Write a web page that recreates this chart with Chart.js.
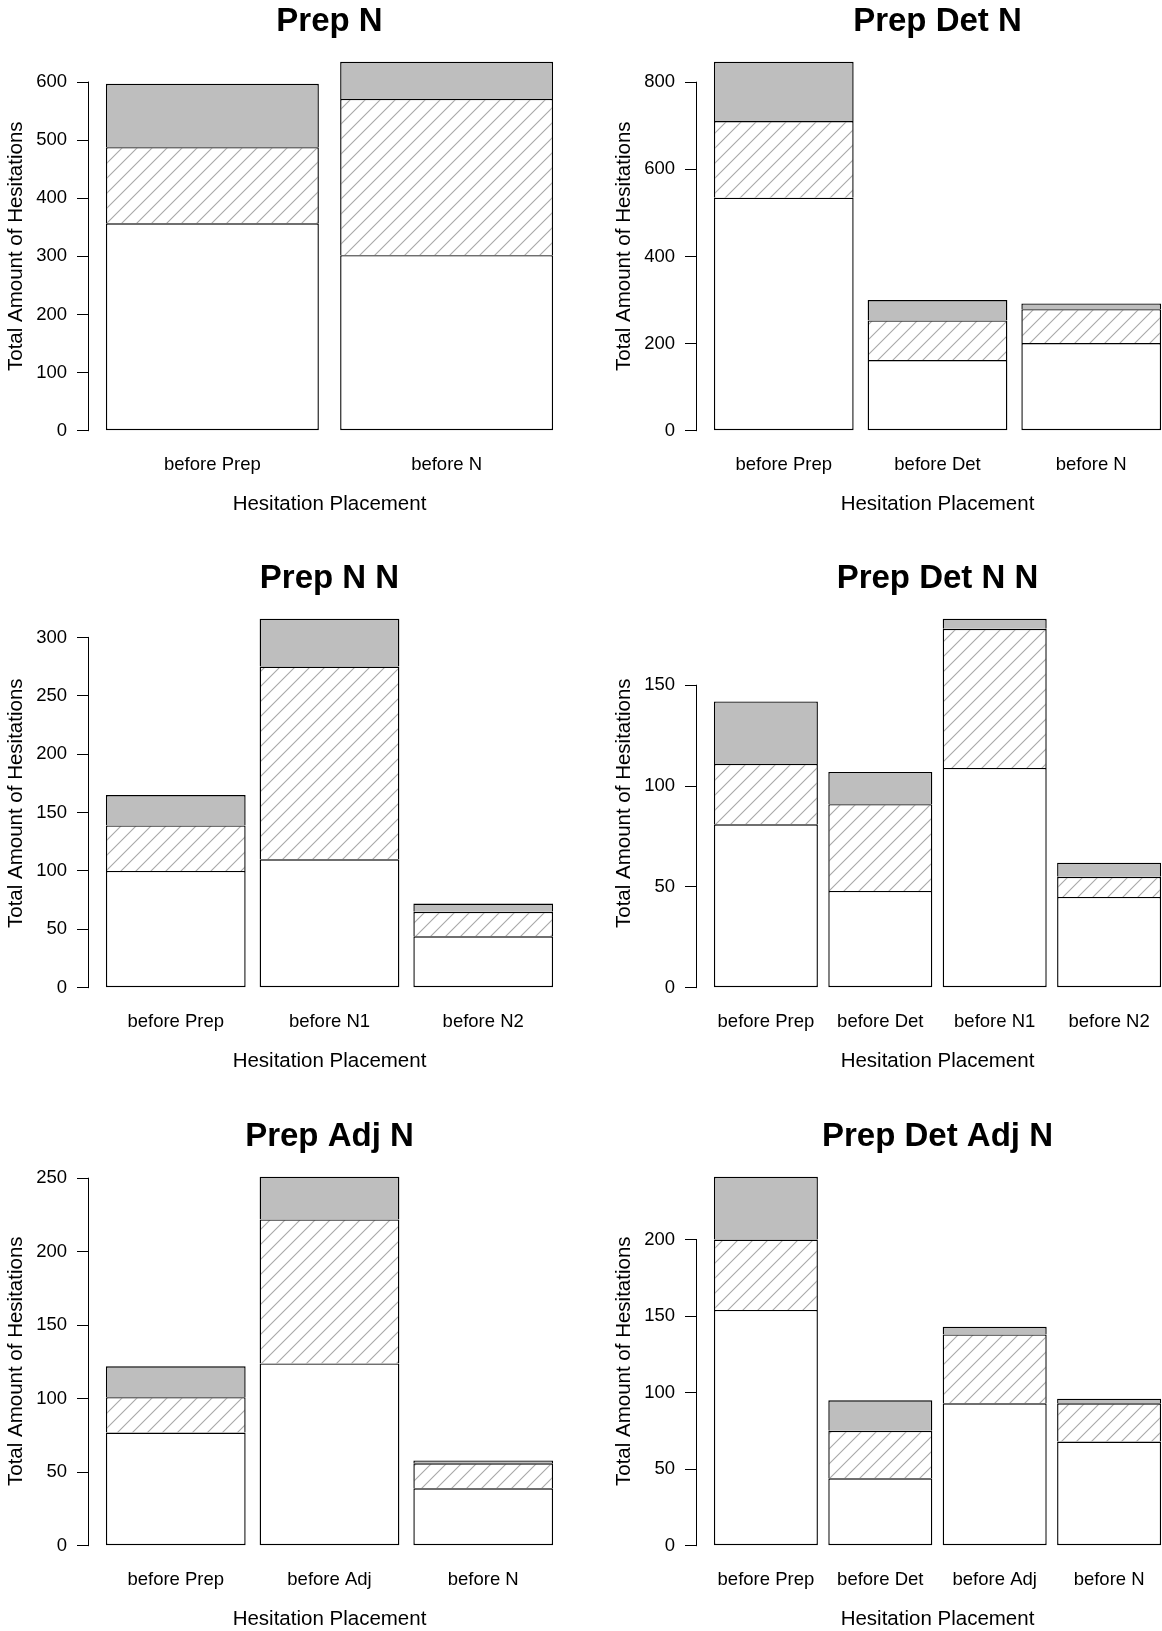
<!DOCTYPE html>
<html>
<head>
<meta charset="utf-8">
<title>Hesitation Placement</title>
<script src="https://cdn.jsdelivr.net/npm/chart.js@4.4.1/dist/chart.umd.min.js"></script>
<style>
  html, body { margin: 0; padding: 0; background: #fff; }
  #sheet { position: relative; width: 1162px; height: 1631px; overflow: hidden; }
  #sheet canvas { position: absolute; }
</style>
</head>
<body>
<div id="sheet">
  <canvas id="prepN" width="608" height="557" style="left:0;top:0"></canvas>
  <canvas id="prepDetN" width="608" height="557" style="left:608px;top:0"></canvas>
  <canvas id="prepNN" width="608" height="557" style="left:0;top:557px"></canvas>
  <canvas id="prepDetNN" width="608" height="557" style="left:608px;top:557px"></canvas>
  <canvas id="prepAdjN" width="608" height="557" style="left:0;top:1115px"></canvas>
  <canvas id="prepDetAdjN" width="608" height="557" style="left:608px;top:1115px"></canvas>
</div>
<script>
// counts per placement: bottom (white), middle (hatched), top (grey) segment
const catsPrepN = ['before Prep', 'before N'];
const lowPrepN = [357, 302];
const midPrepN = [131, 269];
const highPrepN = [109, 64];
const ticksPrepN = [0, 100, 200, 300, 400, 500, 600];

const catsPrepDetN = ['before Prep', 'before Det', 'before N'];
const lowPrepDetN = [535, 162, 201];
const midPrepDetN = [176, 91, 78];
const highPrepDetN = [136, 47, 13];
const ticksPrepDetN = [0, 200, 400, 600, 800];

const catsPrepNN = ['before Prep', 'before N1', 'before N2'];
const lowPrepNN = [100, 110, 44];
const midPrepNN = [39, 165, 21];
const highPrepNN = [26, 41, 7];
const ticksPrepNN = [0, 50, 100, 150, 200, 250, 300];

const catsPrepDetNN = ['before Prep', 'before Det', 'before N1', 'before N2'];
const lowPrepDetNN = [81, 48, 109, 45];
const midPrepDetNN = [30, 43, 69, 10];
const highPrepDetNN = [31, 16, 5, 7];
const ticksPrepDetNN = [0, 50, 100, 150];

const catsPrepAdjN = ['before Prep', 'before Adj', 'before N'];
const lowPrepAdjN = [77, 124, 39];
const midPrepAdjN = [24, 98, 17];
const highPrepAdjN = [21, 29, 2];
const ticksPrepAdjN = [0, 50, 100, 150, 200, 250];

const catsPrepDetAdjN = ['before Prep', 'before Det', 'before Adj', 'before N'];
const lowPrepDetAdjN = [154, 44, 93, 68];
const midPrepDetAdjN = [46, 31, 45, 25];
const highPrepDetAdjN = [41, 20, 5, 3];
const ticksPrepDetAdjN = [0, 50, 100, 150, 200];

Chart.defaults.font.family = '"Liberation Sans", Arial, Helvetica, sans-serif';
Chart.defaults.color = '#000';

// 45 degree light grey hatching for the middle segment
function hatch(ctx) {
  const size = 15;
  const tile = document.createElement('canvas');
  tile.width = size;
  tile.height = size;
  const g = tile.getContext('2d');
  g.fillStyle = '#fff';
  g.fillRect(0, 0, size, size);
  g.strokeStyle = '#a8a8a8';
  g.lineWidth = 1.1;
  g.beginPath();
  g.moveTo(0, size); g.lineTo(size, 0);
  g.moveTo(-2, 2); g.lineTo(2, -2);
  g.moveTo(size - 2, size + 2); g.lineTo(size + 2, size - 2);
  g.stroke();
  return ctx.createPattern(tile, 'repeat');
}

// y axis line only between first and last tick, like base graphics
const axisLine = {
  id: 'axisLine',
  afterDraw(chart) {
    const y = chart.scales.y;
    const first = y.ticks[0].value;
    const last = y.ticks[y.ticks.length - 1].value;
    const x = Math.round(chart.chartArea.left - 0.5) + 0.5;
    const ctx = chart.ctx;
    ctx.save();
    ctx.strokeStyle = '#000';
    ctx.lineWidth = 1;
    ctx.beginPath();
    ctx.moveTo(x, y.getPixelForValue(first) + 0.5);
    ctx.lineTo(x, y.getPixelForValue(last) - 0.5);
    ctx.stroke();
    ctx.restore();
  }
};

// main title centred over the plot region
const panelTitle = {
  id: 'panelTitle',
  afterDraw(chart, args, opts) {
    const { ctx, chartArea } = chart;
    ctx.save();
    ctx.font = 'bold 33px "Liberation Sans", Arial, Helvetica, sans-serif';
    ctx.fillStyle = '#000';
    ctx.textAlign = 'center';
    ctx.textBaseline = 'middle';
    ctx.fillText(opts.text, (chartArea.left + chartArea.right) / 2, 22);
    ctx.restore();
  }
};

function drawPanel(id, title, cats, low, mid, high, yTicks) {
  const ctx = document.getElementById(id).getContext('2d');
  const n = cats.length;
  // bars of width 1 with 0.1 space, axis ranges padded by 4%
  const centers = cats.map((c, i) => 0.6 + 1.1 * i);
  const span = 1.1 * n - 0.1;
  const totals = low.map((v, i) => v + mid[i] + high[i]);
  const yMax = Math.max(...totals);
  const points = arr => arr.map((v, i) => ({ x: centers[i], y: v }));

  new Chart(ctx, {
    type: 'bar',
    data: {
      datasets: [
        { data: points(low), backgroundColor: '#ffffff', borderSkipped: false },
        { data: points(mid), backgroundColor: hatch(ctx), borderSkipped: 'start' },
        { data: points(high), backgroundColor: '#bebebe', borderSkipped: 'start' }
      ]
    },
    options: {
      responsive: false,
      animation: false,
      layout: { padding: { top: 47, right: 37, left: 0, bottom: 0 } },
      datasets: {
        bar: { borderColor: '#000', borderWidth: 1.4, categoryPercentage: 1, barPercentage: 1 / 1.1 }
      },
      plugins: {
        legend: { display: false },
        tooltip: { enabled: false },
        panelTitle: { text: title }
      },
      scales: {
        x: {
          type: 'linear',
          stacked: true,
          offset: false,
          min: 0.1 - 0.04 * span,
          max: 1.1 * n + 0.04 * span,
          afterBuildTicks: s => { s.ticks = centers.map(v => ({ value: v })); },
          afterFit: s => { s.height = 111.6; },
          grid: { display: false, drawTicks: false, offset: false },
          border: { display: false },
          ticks: {
            callback: (v, i) => cats[i],
            autoSkip: false, maxRotation: 0, padding: 8,
            font: { size: 18.5 }
          },
          title: {
            display: true, text: 'Hesitation Placement',
            font: { size: 20.5 }, padding: { top: 0, bottom: 40 }
          }
        },
        y: {
          stacked: true,
          min: -0.04 * yMax,
          max: 1.04 * yMax,
          afterBuildTicks: s => { s.ticks = yTicks.map(v => ({ value: v })); },
          afterFit: s => { s.width = 88; },
          grid: { drawOnChartArea: false, drawTicks: true, tickLength: 11, color: '#000', lineWidth: 1 },
          border: { display: false },
          ticks: {
            callback: v => String(v),
            autoSkip: false, padding: 10,
            font: { size: 18.5 }
          },
          title: {
            display: true, text: 'Total Amount of Hesitations',
            font: { size: 20.5 }, padding: { top: 4, bottom: 0 }
          }
        }
      }
    },
    plugins: [axisLine, panelTitle]
  });
}

drawPanel('prepN', 'Prep N', catsPrepN, lowPrepN, midPrepN, highPrepN, ticksPrepN);
drawPanel('prepDetN', 'Prep Det N', catsPrepDetN, lowPrepDetN, midPrepDetN, highPrepDetN, ticksPrepDetN);
drawPanel('prepNN', 'Prep N N', catsPrepNN, lowPrepNN, midPrepNN, highPrepNN, ticksPrepNN);
drawPanel('prepDetNN', 'Prep Det N N', catsPrepDetNN, lowPrepDetNN, midPrepDetNN, highPrepDetNN, ticksPrepDetNN);
drawPanel('prepAdjN', 'Prep Adj N', catsPrepAdjN, lowPrepAdjN, midPrepAdjN, highPrepAdjN, ticksPrepAdjN);
drawPanel('prepDetAdjN', 'Prep Det Adj N', catsPrepDetAdjN, lowPrepDetAdjN, midPrepDetAdjN, highPrepDetAdjN, ticksPrepDetAdjN);
</script>
</body>
</html>
